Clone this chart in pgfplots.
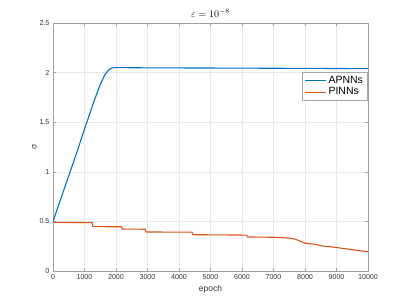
\documentclass[border=0pt]{standalone}
\usepackage{pgfplots}
\pgfplotsset{compat=1.18}
\usepackage{fontspec}
\setmainfont{Liberation Sans}
\definecolor{mblue}{rgb}{0,0.447,0.741}
\definecolor{mred}{rgb}{0.85,0.325,0.098}
\begin{document}
\begin{tikzpicture}
\begin{axis}[
  name=ax,
  scale only axis,
  width=315bp, height=248bp,
  xmin=0, xmax=10000, ymin=0, ymax=2.5,
  xtick={0,1000,...,10000},
  ytick={0,0.5,1,1.5,2,2.5},
  yticklabels={0,0.5,1,1.5,2,2.5},
  scaled x ticks=false,
  /pgf/number format/1000 sep={},
  /pgf/number format/assume math mode=true,
  tick label style={font=\fontsize{7.2}{8}\selectfont, text=black!80},
  xmajorgrids, ymajorgrids,
  grid style={gray!18, line width=0.5pt},
  axis line style={gray!75, line width=0.6pt},
  major tick style={gray!75, line width=0.6pt},
  major tick length=3bp,
  tick align=inside,
  xlabel={epoch},
  xlabel style={font=\fontsize{8.5}{10}\selectfont, text=black!80, yshift=1bp},
  ylabel={σ},
  ylabel style={font=\fontsize{8.5}{10}\selectfont, text=black!80, yshift=-4bp},
  title={$\varepsilon = 10^{-8}$},
  title style={font=\fontsize{10}{11}\selectfont, yshift=-3.5bp},
  legend style={at={(0.997,0.801)}, anchor=north east, draw=gray!70, font=\fontsize{10.5}{12}\selectfont, inner xsep=2bp, inner ysep=1.5bp, row sep=-1pt, legend cell align=left},
  legend image code/.code={\draw[#1] (0bp,0bp) -- (21bp,0bp);},
]
\addplot[mblue, line width=1.1pt] coordinates {
(0,0.5) (250,0.73) (500,0.96) (750,1.19) (1000,1.43) (1300,1.71) (1500,1.88) (1650,1.98) (1750,2.02) (1850,2.045) (1950,2.05) (2100,2.05) (3000,2.048) (6000,2.045) (10000,2.04)
};
\addlegendentry{APNNs}
\addplot[mred, line width=1.1pt] coordinates {
(0,0.49) (1240,0.488) (1270,0.447) (2170,0.446) (2200,0.423) (2930,0.421) (2960,0.393) (4410,0.392) (4440,0.366) (6150,0.362) (6180,0.343) (7000,0.34) (7500,0.332) (7700,0.32) (7850,0.30) (8000,0.28) (8300,0.27) (8500,0.255) (8600,0.25) (8800,0.245) (9200,0.228) (9600,0.21) (10000,0.195)
};
\addlegendentry{PINNs}
\end{axis}
\path ([xshift=-53bp,yshift=-34bp]ax.south west) rectangle ([xshift=39bp,yshift=23bp]ax.north east);
\end{tikzpicture}
\end{document}
